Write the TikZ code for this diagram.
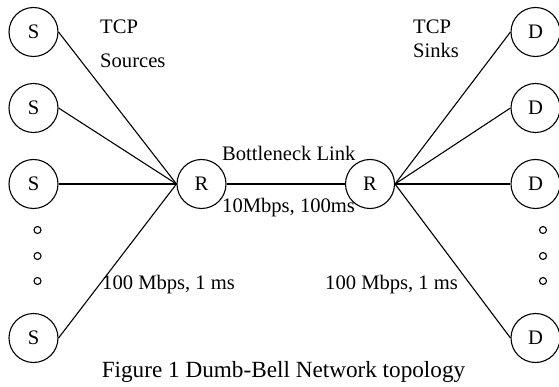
\documentclass[tikz,border=0pt]{standalone}
\usepackage{fontspec}
\setmainfont{Liberation Serif}
\begin{document}
\begin{tikzpicture}[x=1pt,y=-1pt,
  host/.style={draw,circle,minimum size=49pt,inner sep=0pt,line width=1.1pt,font=\fontsize{20.6}{24}\selectfont},
  lbl/.style={anchor=base west,inner sep=0pt,font=\fontsize{20.6}{24}\selectfont},
  dotc/.style={draw,circle,minimum size=7pt,inner sep=0pt,line width=1.1pt},
  link/.style={line width=1.1pt}]
\useasboundingbox (0,0) rectangle (559,387);
% sources
\node[host] (s1) at (33.5,32) {S};
\node[host] (s2) at (33.5,108) {S};
\node[host] (s3) at (33.5,184) {S};
\node[host] (s4) at (33.5,338) {S};
% sinks
\node[host] (d1) at (535.5,32) {D};
\node[host] (d2) at (535.5,108) {D};
\node[host] (d3) at (535.5,184) {D};
\node[host] (d4) at (535.5,338) {D};
% routers
\node[host] (r1) at (201.5,184) {R};
\node[host] (r2) at (370,184) {R};
% dots
\node[dotc] (la) at (37.5,230) {};
\node[dotc] (lb) at (37.5,256) {};
\node[dotc] (lc) at (37.5,281) {};
\node[dotc] (ra) at (543,230) {};
\node[dotc] (rb) at (543,256) {};
\node[dotc] (rc) at (543,281) {};
% links
\foreach \s in {s1,s2,s3,s4} \draw[link] (\s.east) -- (r1.west);
\foreach \d in {d1,d2,d3,d4} \draw[link] (r2.east) -- (\d.west);
\draw[link] (r1.east) -- (r2.west);
% labels
\node[lbl] (t1) at (100,34) {TCP};
\node[lbl] (t2) at (100,68) {Sources};
\node[lbl] (t3) at (413,34) {TCP};
\node[lbl] (t4) at (413,58) {Sinks};
\node[lbl] (bl) at (222,161) {Bottleneck Link};
\node[lbl] (bw) at (222,213) {10Mbps, 100ms};
\node[lbl] (l1) at (102,289) {100 Mbps, 1 ms};
\node[lbl] (l2) at (325,289) {100 Mbps, 1 ms};
\node[anchor=base,inner sep=0pt,font=\fontsize{23.2}{28}\selectfont] (cap) at (283.5,377) {Figure 1 Dumb-Bell Network topology};
\end{tikzpicture}
\end{document}
